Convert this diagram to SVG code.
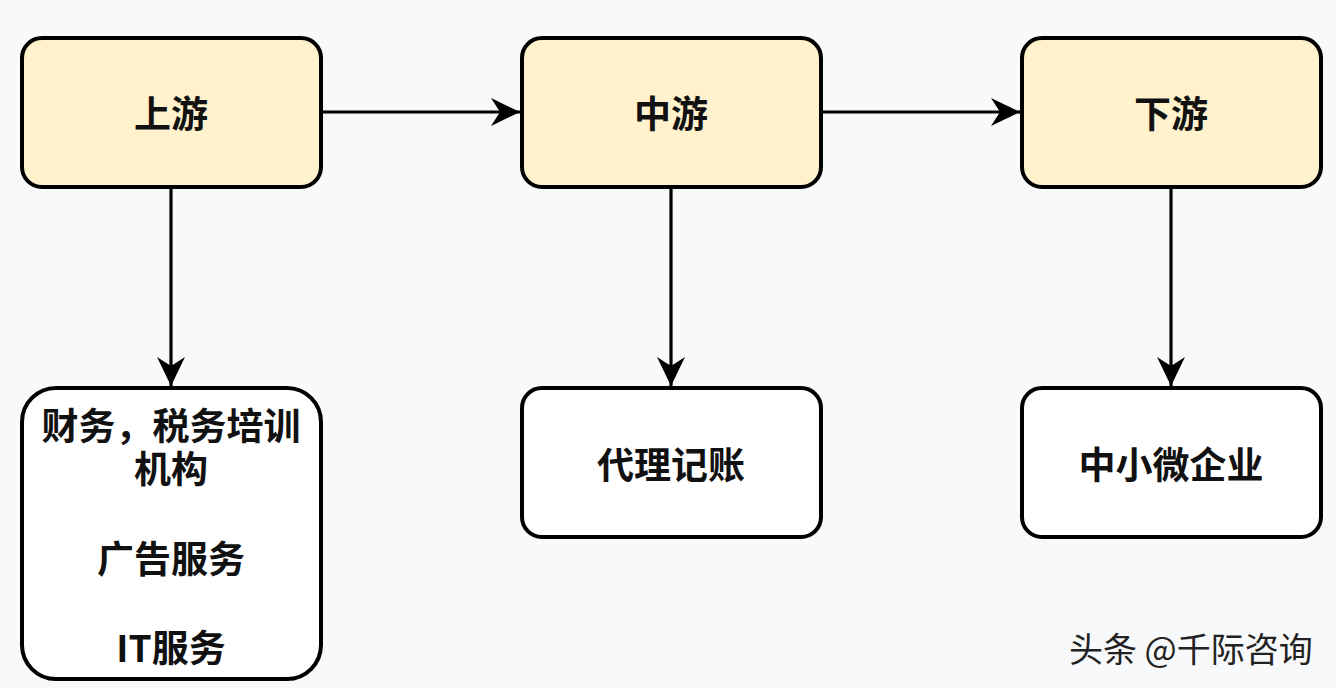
<svg xmlns="http://www.w3.org/2000/svg" width="1336" height="688" viewBox="0 0 1336 688">
<defs>
<style>
.box{stroke:#000;stroke-width:4}
.top{fill:#fff2cc}
.bot{fill:#ffffff}
.t{font-family:"Noto Sans CJK SC","Liberation Sans",sans-serif;font-weight:bold;font-size:37px;fill:#111;text-anchor:middle;dominant-baseline:central}
.c{stroke:#000;stroke-width:3.2;fill:none}
.wm{font-family:"Noto Sans CJK SC","Liberation Sans",sans-serif;font-size:34px;fill:#222}
</style>
<marker id="ah" viewBox="0 0 30 28" refX="29" refY="14" markerWidth="30" markerHeight="28" markerUnits="userSpaceOnUse" orient="auto">
<path d="M0,0 L29,14 L0,28 L9,14 Z" fill="#000"/>
</marker>
</defs>
<rect width="1336" height="688" fill="#f8f9fb"/>
<g id="connectors">
<line class="c" x1="323" y1="112" x2="520" y2="112" marker-end="url(#ah)"/>
<line class="c" x1="823" y1="112" x2="1020" y2="112" marker-end="url(#ah)"/>
<line class="c" x1="171" y1="189" x2="171" y2="386" marker-end="url(#ah)"/>
<line class="c" x1="671" y1="189" x2="671" y2="386" marker-end="url(#ah)"/>
<line class="c" x1="1171" y1="189" x2="1171" y2="386" marker-end="url(#ah)"/>
</g>
<g id="upstream">
<rect class="box top" x="22" y="38" width="299" height="149" rx="20"/>
<text class="t" x="171" y="112">上游</text>
</g>
<g id="midstream">
<rect class="box top" x="522" y="38" width="299" height="149" rx="20"/>
<text class="t" x="671" y="112">中游</text>
</g>
<g id="downstream">
<rect class="box top" x="1022" y="38" width="299" height="149" rx="20"/>
<text class="t" x="1171" y="112">下游</text>
</g>
<g id="upstream-items">
<rect class="box bot" x="22" y="388" width="299" height="291" rx="34"/>
<text class="t" x="171" y="424">财务，税务培训</text>
<text class="t" x="171" y="467">机构</text>
<text class="t" x="171" y="557">广告服务</text>
<text class="t" x="171" y="646">IT服务</text>
</g>
<g id="midstream-items">
<rect class="box bot" x="522" y="388" width="299" height="149" rx="20"/>
<text class="t" x="671" y="463">代理记账</text>
</g>
<g id="downstream-items">
<rect class="box bot" x="1022" y="388" width="299" height="149" rx="20"/>
<text class="t" x="1171" y="463">中小微企业</text>
</g>
<text class="wm" x="1069" y="662">头条 @千际咨询</text>
</svg>
